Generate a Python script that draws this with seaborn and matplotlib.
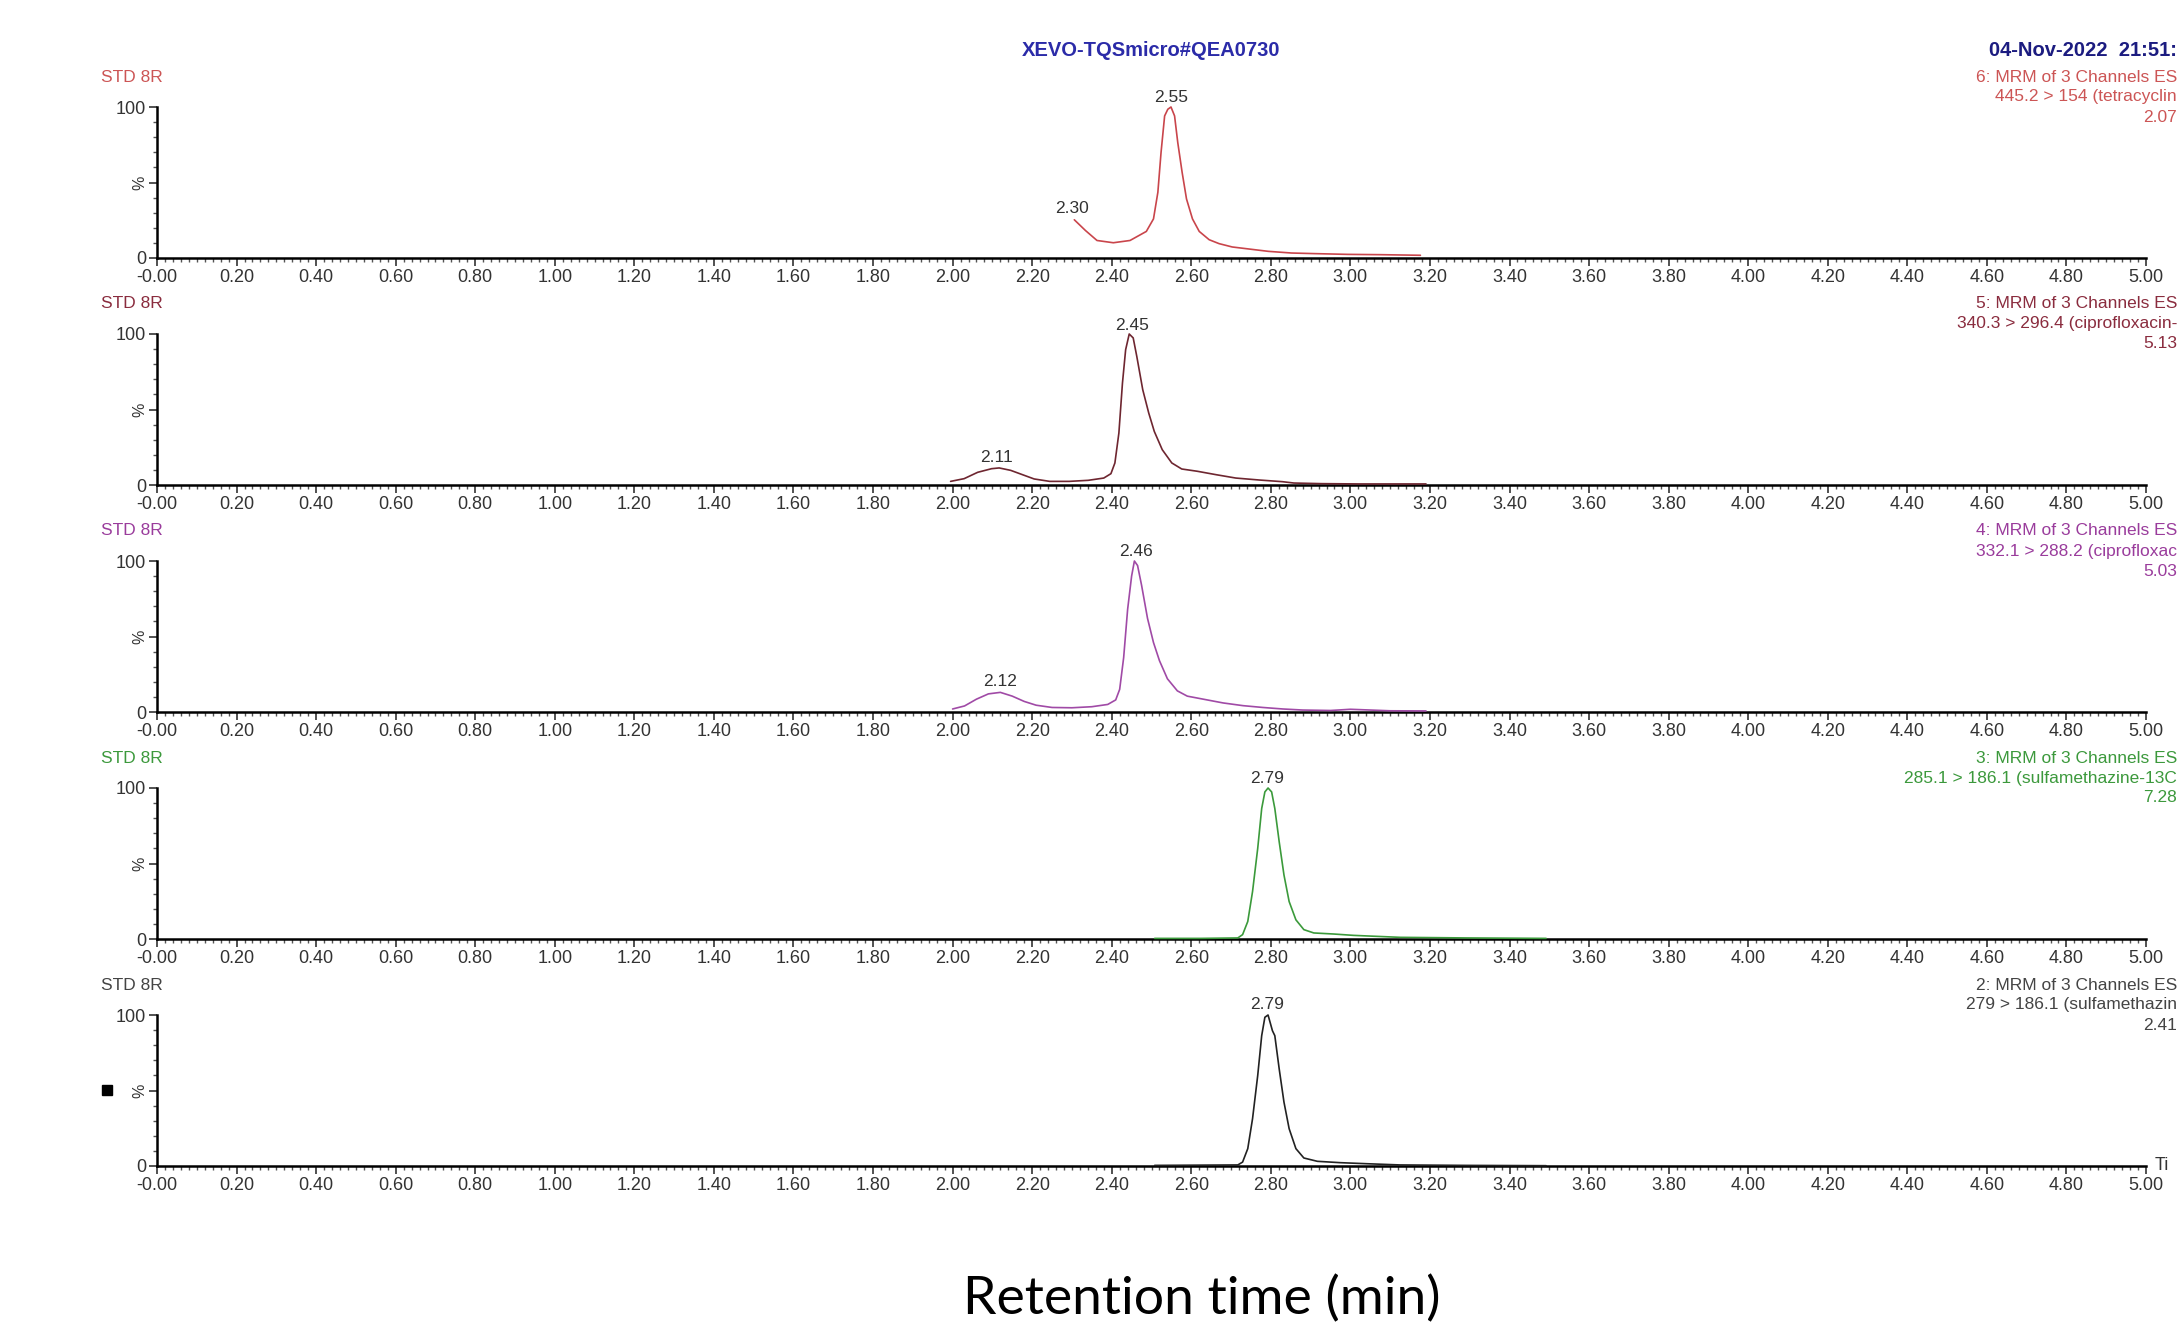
import numpy as np
import pandas as pd
import matplotlib.pyplot as plt
import seaborn as sns
from matplotlib.ticker import MultipleLocator
from matplotlib.patches import Rectangle


# traces (time in min, intensity in %)
time_1 = [2.306, 2.334, 2.363, 2.404, 2.446, 2.487, 2.505, 2.516, 2.524, 2.533, 2.541, 2.549,
          2.558, 2.566, 2.577, 2.588, 2.603, 2.620, 2.645, 2.670, 2.703, 2.753, 2.794, 2.852,
          2.910, 2.993, 3.076, 3.176]
intensity_1 = [25.3, 18.2, 11.6, 10.1, 11.6, 17.6, 25.9, 43.5, 69.9, 94.1, 98.5, 100,
               94.1, 76.5, 56.7, 39.1, 25.9, 17.6, 12.1, 9.5, 7.3, 5.7, 4.4, 3.3,
               2.9, 2.4, 2.2, 1.8]

time_2 = [1.995, 2.029, 2.063, 2.098, 2.117, 2.146, 2.176, 2.205, 2.244, 2.293, 2.341, 2.380,
          2.398, 2.408, 2.418, 2.427, 2.435, 2.444, 2.454, 2.463, 2.478, 2.493, 2.507, 2.527,
          2.551, 2.576, 2.615, 2.663, 2.712, 2.771, 2.829, 2.858, 2.927, 3.024, 3.190]
intensity_2 = [2.4, 4.2, 8.4, 10.8, 11.3, 9.7, 6.8, 4.0, 2.4, 2.4, 3.1, 4.6,
               7.5, 14.6, 34.4, 67.5, 89.6, 100, 97.4, 85.2, 63.1, 47.7, 35.5, 23.4,
               14.6, 10.6, 9.1, 6.8, 4.6, 3.3, 2.2, 1.3, 0.9, 0.7, 0.7]

time_3 = [2.00, 2.03, 2.06, 2.09, 2.12, 2.15, 2.18, 2.21, 2.25, 2.30, 2.35, 2.39,
          2.41, 2.42, 2.43, 2.44, 2.45, 2.457, 2.465, 2.475, 2.49, 2.505, 2.52, 2.54,
          2.565, 2.59, 2.63, 2.68, 2.73, 2.78, 2.83, 2.88, 2.95, 3.00, 3.10, 3.19]
intensity_3 = [2.0, 4.0, 8.5, 12.0, 13.0, 10.5, 7.0, 4.5, 3.0, 2.8, 3.5, 5.0,
               8.0, 15.0, 36.0, 68.0, 90.0, 100, 97.0, 84.0, 62.0, 46.0, 34.0, 22.0,
               14.0, 10.5, 8.5, 6.0, 4.2, 3.0, 2.0, 1.3, 1.0, 1.8, 0.8, 0.7]

time_4 = [2.508, 2.625, 2.717, 2.729, 2.742, 2.754, 2.767, 2.777, 2.785, 2.793, 2.802, 2.810,
          2.821, 2.833, 2.846, 2.863, 2.883, 2.908, 2.958, 3.008, 3.125, 3.292, 3.492]
intensity_4 = [0.4, 0.4, 0.7, 2.9, 11.6, 31.4, 60.0, 86.4, 97.4, 100, 97.4, 86.4,
               64.4, 42.4, 24.8, 12.7, 6.2, 4.0, 3.3, 2.4, 1.1, 0.7, 0.4]

time_5 = [2.508, 2.717, 2.729, 2.742, 2.754, 2.767, 2.777, 2.785, 2.793, 2.804, 2.810, 2.821,
          2.833, 2.846, 2.863, 2.883, 2.917, 2.975, 3.042, 3.125, 3.292, 3.492]
intensity_5 = [0.4, 0.7, 2.6, 11.5, 31.3, 59.9, 86.3, 98.5, 100, 89.6, 86.3, 64.3,
               42.3, 24.7, 11.5, 5.3, 3.1, 2.2, 1.5, 0.7, 0.4, 0.2]

# labelled peaks (retention time shown above the trace)
peaks_1 = [2.30, 2.55]
peaks_2 = [2.11, 2.45]
peaks_3 = [2.12, 2.46]
peaks_4 = [2.79]
peaks_5 = [2.79]

channel_1 = ["6: MRM of 3 Channels ES", "445.2 > 154 (tetracyclin", "2.07"]
channel_2 = ["5: MRM of 3 Channels ES", "340.3 > 296.4 (ciprofloxacin-", "5.13"]
channel_3 = ["4: MRM of 3 Channels ES", "332.1 > 288.2 (ciprofloxac", "5.03"]
channel_4 = ["3: MRM of 3 Channels ES", "285.1 > 186.1 (sulfamethazine-13C", "7.28"]
channel_5 = ["2: MRM of 3 Channels ES", "279 > 186.1 (sulfamethazin", "2.41"]

traces = [(time_1, intensity_1, peaks_1, channel_1),
          (time_2, intensity_2, peaks_2, channel_2),
          (time_3, intensity_3, peaks_3, channel_3),
          (time_4, intensity_4, peaks_4, channel_4),
          (time_5, intensity_5, peaks_5, channel_5)]

line_colors = ["#c9454b", "#6e2630", "#a04aa6", "#3b9a3b", "#222222"]
label_colors = ["#cc5555", "#8a2c3e", "#9a3c9c", "#3c993c", "#444444"]

sns.set_style("ticks")
plt.rcParams['font.family'] = ['Liberation Sans', 'DejaVu Sans']

W, H = 2177, 1322
fig = plt.figure(figsize=(W / 100, H / 100), dpi=100)

left_px, right_px = 157, 2146
panel_h = 151
first_top = 107
step = 227

for i, (t, y, peaks, channel) in enumerate(traces):
    top_px = first_top + i * step
    ax = fig.add_axes([left_px / W, 1 - (top_px + panel_h) / H,
                       (right_px - left_px) / W, panel_h / H])
    df = pd.DataFrame({'time': t, 'intensity': y})
    sns.lineplot(data=df, x='time', y='intensity', ax=ax, color=line_colors[i],
                 lw=1.2, clip_on=False, zorder=3)
    ax.set_xlim(0, 5)
    ax.set_ylim(0, 100)
    ax.set_xlabel('')
    ax.set_ylabel('')
    for s in ['top', 'right']:
        ax.spines[s].set_visible(False)
    for s in ['left', 'bottom']:
        ax.spines[s].set_linewidth(1.8)
        ax.spines[s].set_color('black')

    xt = np.round(np.arange(0, 5.001, 0.2), 2)
    ax.set_xticks(xt)
    ax.set_xticklabels(['-0.00'] + ['%.2f' % v for v in xt[1:]], fontsize=13, color='#333333')
    ax.xaxis.set_minor_locator(MultipleLocator(0.02))
    ax.set_yticks([0, 50, 100])
    ax.set_yticklabels(['0', '', '100'], fontsize=13, color='#333333')
    ax.yaxis.set_minor_locator(MultipleLocator(10))
    ax.tick_params(which='major', length=6, width=1.2, pad=2, color='#333333')
    ax.tick_params(which='minor', length=3, width=1.0, color='#555555')
    ax.text(-0.005, 0.5, '%', transform=ax.transAxes, rotation=90, ha='right',
            va='center', fontsize=11.5, color='#333333')

    for p in peaks:
        yp = np.interp(p, t, y)
        ax.annotate('%.2f' % p, (p, yp), xytext=(0, 2.5), textcoords='offset points',
                    ha='center', va='bottom', fontsize=12.5, color='#333333')

    # header texts of each channel
    fig.text(101 / W, 1 - (top_px - 30) / H, 'STD 8R', fontsize=12.5,
             color=label_colors[i], ha='left', va='center')
    for k, (line, dy) in enumerate(zip(channel, [-30, -10, 10])):
        fig.text(1.0, 1 - (top_px + dy) / H, line, fontsize=12.5,
                 color=label_colors[i], ha='right', va='center')

fig.text(1151 / W, 1 - 50 / H, 'XEVO-TQSmicro#QEA0730', fontsize=14.5,
         fontweight='bold', color='#2b2ba8', ha='center', va='center')
fig.text(1.0, 1 - 50 / H, '04-Nov-2022  21:51:', fontsize=14.5,
         fontweight='bold', color='#1c1c80', ha='right', va='center')
fig.text(2155 / W, 1 - 1166 / H, 'Ti', fontsize=13, color='#333333',
         ha='left', va='center')

fig.add_artist(Rectangle((102 / W, 1 - 1095 / H), 10 / W, 10 / H,
                         transform=fig.transFigure, color='black'))

fig.text(1202 / W, 1 - 1299 / H, 'Retention time (min)', fontsize=38.5,
         family=['Lato', 'DejaVu Sans'], ha='center', va='center', color='black')

fig.savefig('out.png', dpi=100)
